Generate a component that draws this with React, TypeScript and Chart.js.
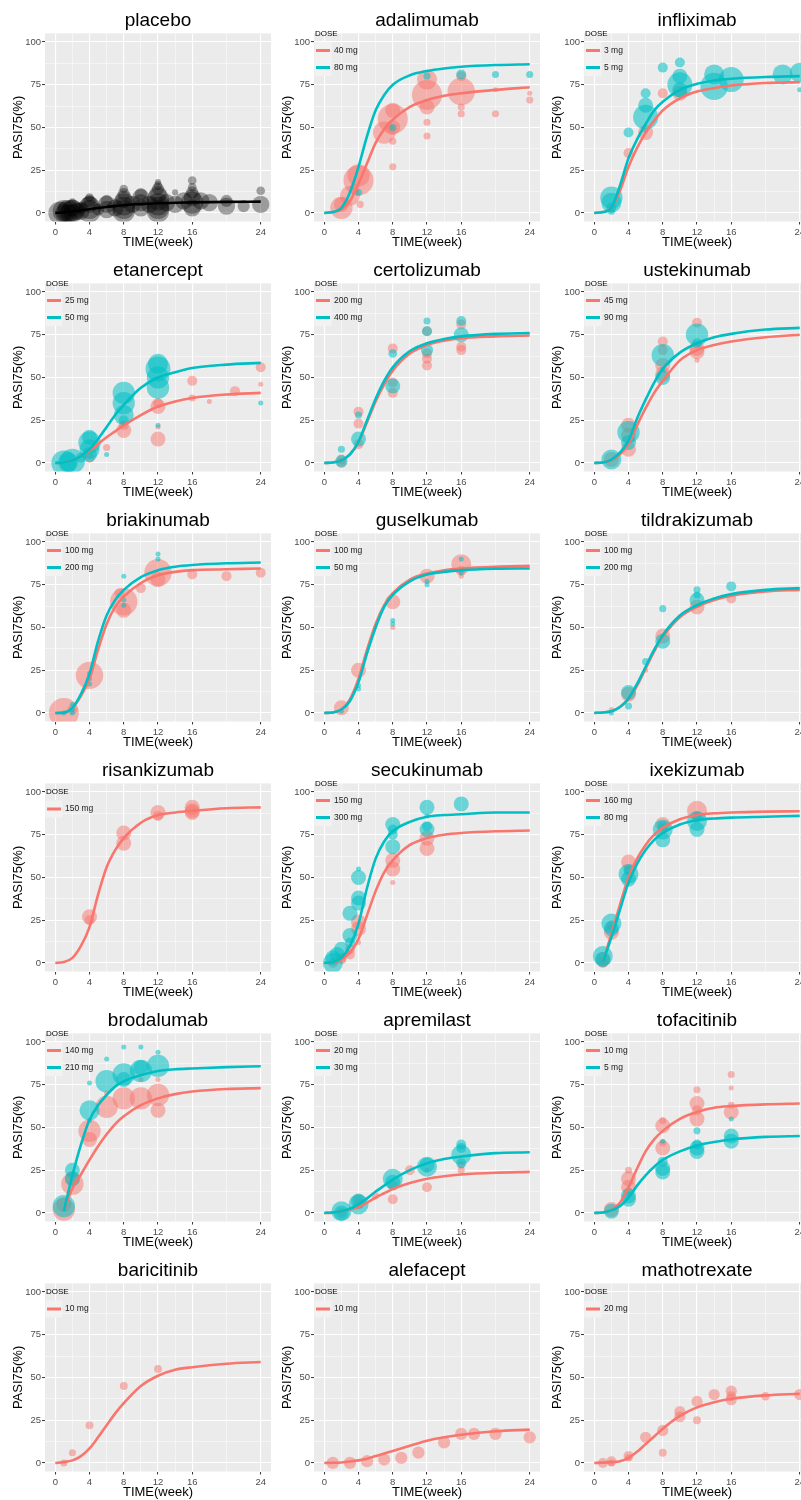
import React, { useEffect, useRef } from 'react';
import { Chart, registerables } from 'chart.js';

Chart.register(...registerables);

const FONT = '"Liberation Sans", Arial, Helvetica, sans-serif';
Chart.defaults.font.family = FONT;

const RED = '#F8766D';
const TEAL = '#00BFC4';
const BLACK = '#000000';
const RED_FILL = 'rgba(248,118,109,0.5)';
const TEAL_FILL = 'rgba(0,191,196,0.55)';
const BLACK_FILL = 'rgba(0,0,0,0.34)';

// curve sample weeks
const WEEKS = [0, 1, 2, 3, 4, 5, 6, 7, 8, 10, 12, 14, 16, 20, 24];
const X_BREAKS = [0, 4, 8, 12, 16, 24];
const X_GRID = [0, 2, 4, 6, 8, 10, 12, 14, 16, 20, 24];
const Y_BREAKS = [0, 25, 50, 75, 100];
const Y_GRID = [0, 12.5, 25, 37.5, 50, 62.5, 75, 87.5, 100];

// fitted curves (PASI75 % at WEEKS)
const placeboCurve = [0, 0.3, 0.8, 1.5, 2.2, 2.9, 3.5, 4.0, 4.5, 5.2, 5.7, 6.0, 6.2, 6.5, 6.6];
const adalimumab40Curve = [0, 0.5, 2, 7, 17, 29, 41, 49, 54.5, 62, 66, 68.5, 70, 72, 73.5];
const adalimumab80Curve = [0, 0.5, 3, 12, 27, 45, 60, 69, 75, 80.5, 83, 84.5, 85.5, 86.5, 87];
const infliximab3Curve = [0, 0.5, 3, 13, 27, 38, 47, 54, 60, 67, 71, 73, 74.5, 76, 76.5];
const infliximab5Curve = [0, 0.5, 3, 16, 32, 43, 52, 60, 65, 72, 75.5, 77.5, 78.5, 79.5, 80];
const etanercept25Curve = [0, 0.3, 1.5, 4, 7, 11, 15, 18.5, 22, 28, 33, 36, 38, 40, 41];
const etanercept50Curve = [0, 0.3, 1.5, 4, 8, 14, 21, 28, 34, 44, 50, 53, 55.5, 57.5, 58.5];
const certolizumab200Curve = [0, 0.3, 1.5, 5, 12, 24, 36, 46, 54, 64, 69, 71.5, 73, 74, 74.5];
const certolizumab400Curve = [0, 0.3, 1.5, 5, 12.5, 25, 37.5, 48, 56, 65.5, 70, 72.5, 74, 75.5, 76];
const ustekinumab45Curve = [0, 0.3, 1.5, 5, 11, 22, 32, 41, 48, 60, 66, 69, 71, 73.5, 75];
const ustekinumab90Curve = [0, 0.3, 2, 6, 13, 26, 37, 47, 55, 64.5, 70, 73.5, 75.5, 78, 79];
const briakinumab100Curve = [0, 0.2, 3, 10, 20, 37, 52, 62, 68, 76, 80.5, 82.5, 83.5, 84, 84.5];
const briakinumab200Curve = [0, 0.2, 3, 11, 23, 42, 57, 66, 72, 79.5, 83.5, 85.5, 86.5, 87.5, 88];
const guselkumab100Curve = [0, 0.3, 2, 8, 20, 37, 52, 63, 70, 78, 81.5, 83.5, 84.5, 85.5, 86];
const guselkumab50Curve = [0, 0.3, 2, 7, 18, 35, 50, 62, 69, 77, 81, 82.5, 83.5, 84.3, 84.5];
const tildrakizumab100Curve = [0, 0.3, 1, 3.5, 8, 16, 26, 36, 44.5, 56, 62, 66, 68.5, 71, 72];
const tildrakizumab200Curve = [0, 0.3, 1, 3.5, 8.5, 17, 27, 37, 45.5, 57, 63, 67, 69.5, 72, 73];
const risankizumab150Curve = [0, 0.5, 3, 10, 21, 40, 56, 66, 73, 82, 86.5, 88, 89, 90.5, 91];
const secukinumab150Curve = [0, 0.3, 2, 6, 14, 28, 42, 53, 60, 69, 73, 75, 76, 77, 77.5];
const secukinumab300Curve = [0, 0.5, 3, 10, 23, 44, 61, 71, 77, 82.5, 85.5, 86.5, 87, 88, 88];
const ixekizumab160Curve = [null, 0.5, 17, 34, 50, 61, 69, 75, 79, 84, 86.5, 87.5, 88, 88.5, 88.7];
const ixekizumab80Curve = [null, 0.5, 15, 31, 47, 58, 66, 72, 76, 81, 83.5, 84.5, 85, 85.5, 86];
const brodalumab140Curve = [null, 1, 14.5, 22.5, 31, 39, 46, 52, 56.5, 63, 67, 69.5, 71, 72.5, 73];
const brodalumab210Curve = [null, 1, 22, 40, 54.5, 63, 69, 74, 77, 80.5, 83, 84, 84.5, 85.3, 85.8];
const apremilast20Curve = [0, 0.2, 1, 2, 3.5, 6, 9, 11.5, 14, 17.5, 20, 21.5, 22.5, 23.5, 24];
const apremilast30Curve = [0, 0.3, 1, 2.5, 5, 8.5, 12.5, 16, 19.5, 25, 29, 31.5, 33, 35, 35.5];
const tofacitinib10Curve = [0, 0.3, 2, 6, 15, 26, 36, 43, 48, 55, 59, 61.5, 62.5, 63.5, 64];
const tofacitinib5Curve = [0, 0.3, 1.5, 4, 9, 16, 22, 27, 31, 36, 39.5, 41.5, 43, 44.5, 45];
const baricitinib10Curve = [0, 0.5, 1.5, 4, 8.5, 15, 22, 29, 35, 45, 51, 54.5, 56, 58, 59];
const alefacept10Curve = [0, 0.1, 0.3, 0.8, 1.5, 2.5, 4, 5.5, 7, 10, 13, 15, 16.5, 18.5, 19.5];
const mathotrexate20Curve = [0, 0.2, 0.5, 1, 3, 6.5, 11, 15.5, 20, 27.5, 32.5, 35.5, 37.5, 39.5, 40.5];

// observed study arms: [week, PASI75 %, relative arm size]
const placeboObs = [
  [0.5, 0, 20], [1, 1, 20], [1, 0, 12], [1, 3, 6], [1.5, 1, 20], [1.5, 0, 12], [2, 1, 20], [2, 3, 12], [2, 0, 12], [2, 6, 3],
  [2.5, 1, 12], [3, 1, 12], [3, 3, 6], [4, 1, 20], [4, 3, 20], [4, 5, 12], [4, 7, 6], [4, 9, 3], [5, 2, 6], [6, 2, 12],
  [6, 5, 12], [6, 7, 6], [7, 3, 12], [8, 1, 20], [8, 3, 20], [8, 5, 20], [8, 8, 12], [8, 11, 6], [8, 14, 3], [9, 5, 12],
  [10, 3, 12], [10, 6, 12], [10, 9, 12], [10, 11, 6], [11, 5, 12], [12, 1, 20], [12, 3, 20], [12, 5, 20], [12, 8, 20], [12, 11, 12],
  [12, 14, 6], [12, 16, 3], [12, 18, 1.5], [13, 6, 12], [14, 5, 12], [14, 12, 1.5], [15, 7, 12], [16, 3, 12], [16, 6, 20], [16, 9, 12],
  [16, 12, 6], [16, 15, 3], [16, 19, 3], [17, 7, 12], [18, 6, 12], [20, 4, 12], [20, 7, 6], [22, 4, 6], [24, 5, 12], [24, 13, 3],
];
const adalimumab40Obs = [
  [2, 3, 20], [2, 5, 9], [3, 10, 16], [3.5, 14, 4], [4, 19, 36], [4, 22, 20], [4.2, 5, 2], [7, 47, 20], [8, 55, 36], [8, 60, 9],
  [8, 50, 9], [8, 42, 2], [8, 27, 2], [12, 69, 36], [12, 78, 16], [12, 62, 9], [12, 53, 2], [12, 45, 2], [16, 71, 30], [16, 80, 4],
  [16, 62, 2], [16, 58, 2], [20, 72, 1], [20, 58, 2], [24, 70, 1], [24, 66, 2],
];
const adalimumab80Obs = [[4, 12, 2], [8, 50, 2], [12, 80, 2], [16, 81, 4], [20, 81, 2], [24, 81, 2]];
const infliximab3Obs = [[4, 35, 4], [6, 47, 9], [8, 70, 4], [10, 70, 9]];
const infliximab5Obs = [
  [2, 9, 20], [2, 6, 16], [2, 3, 4], [2, 1, 2], [4, 47, 4], [6, 56, 25], [6, 63, 9], [6, 70, 4], [6, 48, 1], [8, 85, 4],
  [10, 75, 25], [10, 80, 9], [10, 88, 4], [10, 72, 9], [14, 81, 16], [14, 74, 30], [16, 78, 25], [22, 81, 16], [24, 82, 16], [24, 72, 1],
];
const etanercept25Obs = [
  [4, 3, 4], [6, 9, 2], [8, 19, 9], [8, 22, 4], [12, 33, 9], [12, 35, 4], [12, 14, 9], [12, 21, 1], [16, 48, 4], [16, 38, 2],
  [18, 36, 1], [21, 42, 4], [24, 56, 4], [24, 46, 1],
];
const etanercept50Obs = [
  [1, 0, 25], [2, 1, 25], [1.5, 0.5, 16], [3, 3, 4], [4, 12, 20], [4, 8, 16], [4, 5, 9], [4, 15, 9], [8, 41, 20], [8, 35, 20],
  [8, 28, 16], [8, 25, 4], [12, 55, 25], [12, 50, 20], [12, 44, 20], [12, 58, 16], [6, 5, 1], [12, 22, 1], [24, 35, 1],
];
const certolizumab200Obs = [
  [2, 2, 4], [2, 0, 4], [4, 30, 4], [4, 23, 4], [4, 11, 4], [8, 67, 4], [8, 47, 4], [8, 41, 4], [12, 77, 4], [12, 61, 4],
  [12, 57, 4], [12, 64, 4], [16, 81, 4], [16, 68, 4], [16, 66, 4],
];
const certolizumab400Obs = [
  [2, 8, 2], [2, 1, 6], [4, 28, 2], [4, 14, 9], [8, 64, 3], [8, 45, 9], [12, 83, 2], [12, 77, 4], [12, 66, 6], [16, 83, 4], [16, 75, 9],
];
const ustekinumab45Obs = [
  [2, 2, 9], [4, 22, 9], [4, 16, 9], [4, 8, 9], [8, 71, 4], [8, 66, 4], [8, 57, 9], [8, 52, 9], [12, 82, 4], [12, 67, 9],
  [12, 65, 9], [12, 60, 1],
];
const ustekinumab90Obs = [[2, 2, 16], [4, 18, 20], [4, 12, 9], [8, 63, 20], [8, 50, 9], [8, 55, 1], [12, 75, 20], [12, 70, 4]];
const briakinumab100Obs = [
  [1, 0, 36], [2, 2, 4], [4, 22, 30], [7.5, 70, 4], [8, 65, 30], [8, 60, 9], [10, 73, 4], [12, 82, 30], [12, 78, 9], [16, 81, 4],
  [20, 80, 4], [24, 82, 4],
];
const briakinumab200Obs = [
  [1, 0, 1], [2, 5, 1], [2, 2, 1], [2, 0, 1], [4, 23, 1], [4, 20, 1], [4, 17, 1], [8, 80, 1], [8, 66, 1], [8, 63, 1], [12, 93, 1], [12, 90, 1],
];
const guselkumab100Obs = [[2, 3, 9], [4, 25, 9], [8, 65, 9], [12, 80, 9], [16, 87, 16], [16, 83, 4], [16, 80, 1], [8, 50, 1]];
const guselkumab50Obs = [[2, 1, 1], [4, 16, 1], [4, 14, 1], [8, 54, 1], [8, 52, 1], [12, 77, 1], [12, 75, 1], [16, 90, 1], [16, 82, 1]];
const tildrakizumab100Obs = [[2, 2, 1], [4, 11, 9], [6, 25, 1], [8, 45, 9], [12, 62, 9], [16, 67, 4]];
const tildrakizumab200Obs = [[2, 0, 1], [4, 12, 9], [4, 4, 2], [6, 30, 2], [8, 61, 2], [8, 42, 9], [12, 72, 2], [12, 66, 9], [12, 69, 2], [16, 74, 4]];
const risankizumab150Obs = [[4, 27, 9], [4, 25, 4], [8, 76, 9], [8, 70, 9], [12, 88, 9], [12, 86, 4], [16, 89, 9], [16, 91, 9], [16, 88, 9]];
const secukinumab150Obs = [
  [1, 0, 4], [2, 2, 4], [2, 3, 4], [3, 5, 4], [3, 8, 4], [4, 24, 9], [4, 20, 9], [4, 12, 1], [8, 60, 9], [8, 55, 9], [8, 47, 1],
  [12, 73, 9], [12, 67, 9],
];
const secukinumab300Obs = [
  [1, 0, 16], [1, 3, 9], [1.5, 5, 9], [2, 8, 9], [3, 16, 9], [3, 29, 9], [3, 12, 4], [4, 50, 9], [4, 55, 1], [4, 35, 9],
  [4, 38, 9], [8, 81, 9], [8, 68, 9], [8, 75, 4], [8, 78, 4], [12, 91, 9], [12, 86, 1], [12, 78, 9], [12, 80, 4], [16, 93, 9],
];
const ixekizumab160Obs = [[1, 2, 9], [1, 0, 4], [2, 18, 9], [2, 22, 4], [4, 59, 9], [4, 55, 4], [8, 81, 9], [8, 78, 4], [12, 89, 16], [12, 86, 4]];
const ixekizumab80Obs = [
  [1, 4, 16], [1, 2, 9], [2, 23, 16], [2, 20, 9], [4, 52, 16], [4, 49, 9], [4, 54, 4], [8, 78, 16], [8, 72, 9], [8, 80, 4],
  [12, 83, 16], [12, 78, 9], [12, 85, 4],
];
const brodalumab140Obs = [
  [1, 2, 20], [1, 5, 9], [2, 17, 20], [2, 20, 9], [4, 48, 20], [4, 43, 9], [6, 62, 20], [6, 70, 1], [8, 67, 20], [10, 67, 20],
  [10, 78, 1], [12, 69, 20], [12, 60, 9], [12, 78, 1],
];
const brodalumab210Obs = [
  [1, 4, 20], [2, 25, 9], [2, 20, 9], [4, 60, 16], [4, 76, 1], [4, 54, 1], [6, 77, 20], [6, 90, 1], [8, 81, 20], [8, 97, 1],
  [8, 78, 9], [10, 83, 20], [10, 97, 1], [10, 85, 9], [12, 86, 20], [12, 94, 1],
];
const apremilast20Obs = [[2, 0, 4], [4, 8, 4], [4, 5, 4], [6, 10, 2], [8, 8, 4], [8, 16, 4], [10, 25, 4], [12, 15, 4], [12, 25, 1], [16, 25, 2], [16, 28, 2]];
const apremilast30Obs = [
  [2, 1, 16], [2, 0, 9], [4, 5, 16], [4, 7, 9], [8, 20, 16], [8, 18, 9], [12, 27, 16], [12, 28, 9], [16, 34, 16], [16, 40, 4],
  [16, 38, 4], [16, 29, 4],
];
const tofacitinib10Obs = [
  [2, 2, 9], [4, 20, 9], [4, 15, 9], [4, 25, 2], [4, 12, 4], [8, 51, 9], [8, 54, 2], [8, 38, 9], [8, 41, 2], [12, 64, 9],
  [12, 55, 9], [12, 72, 2], [12, 60, 4], [16, 59, 9], [16, 81, 2], [16, 73, 1], [16, 63, 2],
];
const tofacitinib5Obs = [
  [2, 1, 9], [4, 10, 9], [4, 8, 9], [8, 26, 9], [8, 24, 9], [8, 42, 1], [8, 30, 4], [12, 38, 9], [12, 36, 9], [12, 48, 2],
  [12, 40, 4], [16, 45, 9], [16, 42, 9], [16, 55, 1],
];
const baricitinib10Obs = [[1, 0, 2], [2, 6, 2], [4, 22, 2.5], [8, 45, 2.5], [12, 55, 2.5]];
const alefacept10Obs = [[1, 0, 6], [3, 0, 6], [5, 1, 6], [7, 2, 6], [9, 3, 6], [11, 6, 6], [14, 12, 6], [16, 17, 6], [17.5, 17, 6], [20, 17, 6], [24, 15, 6]];
const mathotrexate20Obs = [
  [1, 0, 4], [2, 1, 4], [2, 0, 2], [4, 4, 4], [4, 3, 2], [6, 15, 5], [8, 19, 5], [8, 6, 2.5], [10, 30, 5], [10, 27, 5],
  [12, 36, 5], [12, 25, 2.5], [14, 40, 5], [16, 42, 5], [16, 37, 5], [16, 39, 4], [20, 39, 3], [24, 40, 5],
];

const sRed = (dose: string, curve: any[], obs: number[][]) => ({ dose, color: RED, fill: RED_FILL, curve, obs });
const sTeal = (dose: string, curve: any[], obs: number[][]) => ({ dose, color: TEAL, fill: TEAL_FILL, curve, obs });

const PANELS = [
  { title: 'placebo', legend: false, series: [{ dose: 'placebo', color: BLACK, fill: BLACK_FILL, curve: placeboCurve, obs: placeboObs }] },
  { title: 'adalimumab', legend: true, series: [sRed('40 mg', adalimumab40Curve, adalimumab40Obs), sTeal('80 mg', adalimumab80Curve, adalimumab80Obs)] },
  { title: 'infliximab', legend: true, series: [sRed('3 mg', infliximab3Curve, infliximab3Obs), sTeal('5 mg', infliximab5Curve, infliximab5Obs)] },
  { title: 'etanercept', legend: true, series: [sRed('25 mg', etanercept25Curve, etanercept25Obs), sTeal('50 mg', etanercept50Curve, etanercept50Obs)] },
  { title: 'certolizumab', legend: true, series: [sRed('200 mg', certolizumab200Curve, certolizumab200Obs), sTeal('400 mg', certolizumab400Curve, certolizumab400Obs)] },
  { title: 'ustekinumab', legend: true, series: [sRed('45 mg', ustekinumab45Curve, ustekinumab45Obs), sTeal('90 mg', ustekinumab90Curve, ustekinumab90Obs)] },
  { title: 'briakinumab', legend: true, series: [sRed('100 mg', briakinumab100Curve, briakinumab100Obs), sTeal('200 mg', briakinumab200Curve, briakinumab200Obs)] },
  { title: 'guselkumab', legend: true, series: [sRed('100 mg', guselkumab100Curve, guselkumab100Obs), sTeal('50 mg', guselkumab50Curve, guselkumab50Obs)] },
  { title: 'tildrakizumab', legend: true, series: [sRed('100 mg', tildrakizumab100Curve, tildrakizumab100Obs), sTeal('200 mg', tildrakizumab200Curve, tildrakizumab200Obs)] },
  { title: 'risankizumab', legend: true, series: [sRed('150 mg', risankizumab150Curve, risankizumab150Obs)] },
  { title: 'secukinumab', legend: true, series: [sRed('150 mg', secukinumab150Curve, secukinumab150Obs), sTeal('300 mg', secukinumab300Curve, secukinumab300Obs)] },
  { title: 'ixekizumab', legend: true, series: [sRed('160 mg', ixekizumab160Curve, ixekizumab160Obs), sTeal('80 mg', ixekizumab80Curve, ixekizumab80Obs)] },
  { title: 'brodalumab', legend: true, series: [sRed('140 mg', brodalumab140Curve, brodalumab140Obs), sTeal('210 mg', brodalumab210Curve, brodalumab210Obs)] },
  { title: 'apremilast', legend: true, series: [sRed('20 mg', apremilast20Curve, apremilast20Obs), sTeal('30 mg', apremilast30Curve, apremilast30Obs)] },
  { title: 'tofacitinib', legend: true, series: [sRed('10 mg', tofacitinib10Curve, tofacitinib10Obs), sTeal('5 mg', tofacitinib5Curve, tofacitinib5Obs)] },
  { title: 'baricitinib', legend: true, series: [sRed('10 mg', baricitinib10Curve, baricitinib10Obs)] },
  { title: 'alefacept', legend: true, series: [sRed('10 mg', alefacept10Curve, alefacept10Obs)] },
  { title: 'mathotrexate', legend: true, series: [sRed('20 mg', mathotrexate20Curve, mathotrexate20Obs)] },
];

const COL_LEFT = [0, 269, 539];
const ROW_H = 250;
const CANVAS_W = 271;

const panelBg = {
  id: 'panelBg',
  beforeDraw(chart: any) {
    const { ctx, chartArea: a } = chart;
    ctx.save();
    ctx.fillStyle = '#EBEBEB';
    ctx.fillRect(a.left, a.top, a.right - a.left, a.bottom - a.top);
    ctx.restore();
  },
};

const doseLegend = {
  id: 'doseLegend',
  afterDraw(chart: any, _args: any, opts: any) {
    const items = opts && opts.items;
    if (!items || !items.length) return;
    const { ctx, chartArea: a } = chart;
    const x0 = a.left;
    const titleY = 52 - items.length * 8.5 - 1.5;
    ctx.save();
    ctx.textBaseline = 'middle';
    ctx.textAlign = 'left';
    ctx.font = `8px ${FONT}`;
    ctx.fillStyle = '#000000';
    ctx.fillText('DOSE', x0 + 1, titleY);
    items.forEach((it: any, i: number) => {
      const cy = titleY + 17 + 17 * i;
      ctx.fillStyle = '#F2F2F2';
      ctx.fillRect(x0 + 0.5, cy - 8.5, 17, 17);
      ctx.strokeStyle = it.color;
      ctx.lineWidth = 3;
      ctx.beginPath();
      ctx.moveTo(x0 + 2, cy);
      ctx.lineTo(x0 + 16, cy);
      ctx.stroke();
      ctx.fillStyle = '#1A1A1A';
      ctx.font = `8.5px ${FONT}`;
      ctx.fillText(it.label, x0 + 20, cy);
    });
    ctx.restore();
  },
};

function PanelChart({ panel, left, top }: any) {
  const ref = useRef<HTMLCanvasElement>(null);
  useEffect(() => {
    const canvas = ref.current;
    if (!canvas) return;
    const datasets: any[] = [];
    panel.series.forEach((s: any, i: number) => {
      datasets.push({
        type: 'bubble',
        data: s.obs.map((o: number[]) => ({ x: o[0], y: o[1], n: o[2] })),
        backgroundColor: s.fill,
        borderWidth: 0,
        hoverRadius: 0,
        radius: (c: any) => 2.5 * Math.sqrt((c.raw && c.raw.n) || 1),
        order: 20 - i,
      });
    });
    panel.series.forEach((s: any, i: number) => {
      datasets.push({
        type: 'line',
        data: WEEKS.map((w, k) => ({ x: w, y: s.curve[k] })),
        borderColor: s.color,
        borderWidth: 2.6,
        pointRadius: 0,
        fill: false,
        cubicInterpolationMode: 'monotone',
        order: 10 - i,
      });
    });
    const chart = new Chart(canvas, {
      type: 'bubble',
      data: { datasets },
      options: {
        responsive: false,
        animation: false,
        devicePixelRatio: 1,
        events: [],
        layout: { padding: 0, autoPadding: false },
        scales: {
          x: {
            type: 'linear',
            min: -1.2,
            max: 25.2,
            afterBuildTicks: (s: any) => {
              s.ticks = X_GRID.map((v) => ({ value: v }));
            },
            afterFit: (s: any) => {
              s.height = 28.5;
              s.paddingLeft = 0;
              s.paddingRight = 0;
            },
            ticks: {
              autoSkip: false,
              maxRotation: 0,
              padding: 2,
              color: '#4D4D4D',
              font: { family: FONT, size: 9.5 },
              callback: (v: any) => (X_BREAKS.includes(v) ? String(v) : ''),
            },
            grid: {
              color: '#FFFFFF',
              lineWidth: (c: any) => (c.tick && X_BREAKS.includes(c.tick.value) ? 1.1 : 0.5),
              drawTicks: true,
              tickLength: 3,
              tickWidth: 1,
              tickColor: (c: any) => (c.tick && X_BREAKS.includes(c.tick.value) ? '#333333' : 'rgba(0,0,0,0)'),
            },
            border: { display: false },
            title: {
              display: true,
              text: 'TIME(week)',
              color: '#000000',
              font: { family: FONT, size: 13 },
              padding: { top: 0, bottom: 0 },
            },
          },
          y: {
            type: 'linear',
            min: -5,
            max: 105,
            afterBuildTicks: (s: any) => {
              s.ticks = Y_GRID.map((v) => ({ value: v }));
            },
            afterFit: (s: any) => {
              s.width = 45;
              s.paddingTop = 0;
              s.paddingBottom = 0;
            },
            ticks: {
              autoSkip: false,
              padding: 1,
              color: '#4D4D4D',
              font: { family: FONT, size: 9.5 },
              callback: (v: any) => (Y_BREAKS.includes(v) ? String(v) : ''),
            },
            grid: {
              color: '#FFFFFF',
              lineWidth: (c: any) => (c.tick && Y_BREAKS.includes(c.tick.value) ? 1.1 : 0.5),
              drawTicks: true,
              tickLength: 3,
              tickWidth: 1,
              tickColor: (c: any) => (c.tick && Y_BREAKS.includes(c.tick.value) ? '#333333' : 'rgba(0,0,0,0)'),
            },
            border: { display: false },
            title: {
              display: true,
              text: 'PASI75(%)',
              color: '#000000',
              font: { family: FONT, size: 13 },
              padding: { top: 11, bottom: 0 },
            },
          },
        },
        plugins: {
          legend: { display: false },
          tooltip: { enabled: false },
          title: {
            display: true,
            text: panel.title,
            fullSize: false,
            color: '#000000',
            font: { family: FONT, size: 19, weight: 'normal' },
            padding: { top: 9, bottom: 1.6 },
          },
          doseLegend: {
            items: panel.legend ? panel.series.map((s: any) => ({ label: s.dose, color: s.color })) : [],
          },
        } as any,
      } as any,
      plugins: [panelBg, doseLegend],
    } as any);
    return () => chart.destroy();
  }, [panel]);
  return (
    <canvas
      ref={ref}
      width={CANVAS_W}
      height={ROW_H}
      style={{ position: 'absolute', left, top, width: CANVAS_W, height: ROW_H, display: 'block' }}
    />
  );
}

export default function App() {
  return (
    <div
      style={{
        position: 'absolute',
        left: 0,
        top: 0,
        width: 801,
        height: 1500,
        overflow: 'hidden',
        background: '#FFFFFF',
      }}
    >
      {PANELS.map((p, i) => (
        <PanelChart key={p.title} panel={p} left={COL_LEFT[i % 3]} top={Math.floor(i / 3) * ROW_H} />
      ))}
    </div>
  );
}
